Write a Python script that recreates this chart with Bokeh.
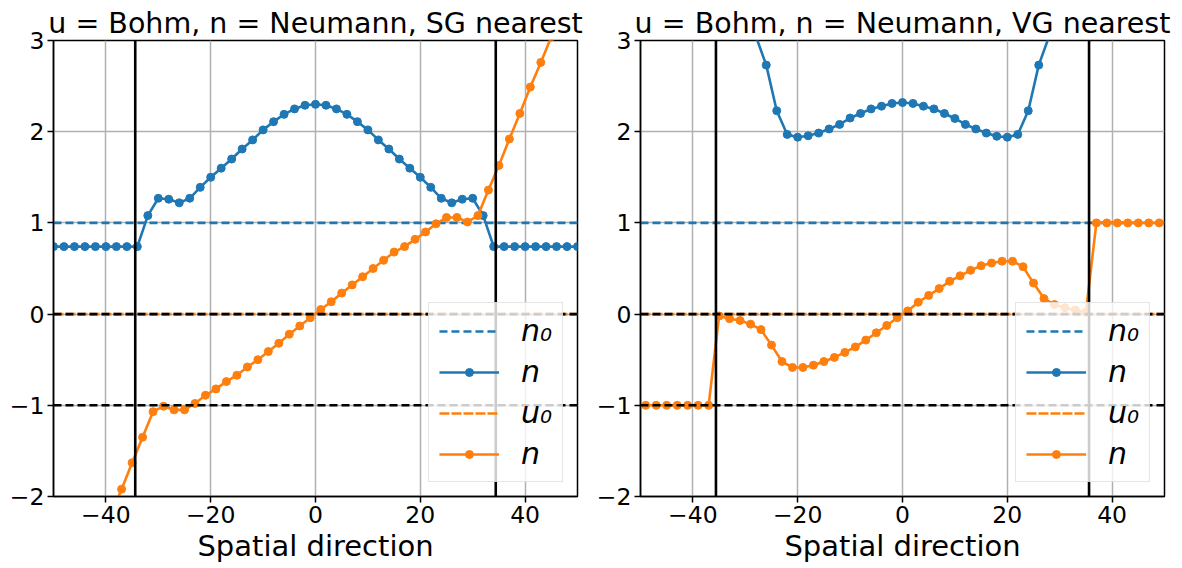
from bokeh.plotting import figure
from bokeh.layouts import row
from bokeh.models import Range1d, FixedTicker, Span, Legend, LegendItem
from bokeh.embed import file_html
from bokeh.resources import INLINE

# ---------------- data ----------------
titles = ["u = Bohm, n = Neumann, SG nearest", "u = Bohm, n = Neumann, VG nearest"]

x_n = [-50, -48, -46, -44, -42, -40, -38, -36, -34, -32, -30, -28, -26, -24, -22, -20, -18,
       -16, -14, -12, -10, -8, -6, -4, -2, 0, 2, 4, 6, 8, 10, 12, 14, 16, 18, 20, 22, 24, 26,
       28, 30, 32, 34, 36, 38, 40, 42, 44, 46, 48, 50]
x_u = [-49, -47, -45, -43, -41, -39, -37, -35, -33, -31, -29, -27, -25, -23, -21, -19, -17,
       -15, -13, -11, -9, -7, -5, -3, -1, 1, 3, 5, 7, 9, 11, 13, 15, 17, 19, 21, 23, 25, 27,
       29, 31, 33, 35, 37, 39, 41, 43, 45, 47, 49]

# left panel (SG nearest)
n_sg = [0.74, 0.74, 0.74, 0.74, 0.74, 0.74, 0.74, 0.74, 0.74,
        1.08, 1.27, 1.26, 1.22, 1.27, 1.39, 1.50, 1.60, 1.70, 1.81, 1.91, 2.02, 2.11, 2.19, 2.25, 2.29,
        2.30,
        2.29, 2.25, 2.19, 2.11, 2.02, 1.91, 1.81, 1.70, 1.60, 1.50, 1.39, 1.27, 1.22, 1.26, 1.27, 1.08,
        0.74, 0.74, 0.74, 0.74, 0.74, 0.74, 0.74, 0.74, 0.74]
u_sg = [-3.60, -3.32, -3.04, -2.76, -2.49, -2.20, -1.92, -1.63, -1.35, -1.07, -1.01, -1.05, -1.05,
        -0.98, -0.89, -0.82, -0.74, -0.67, -0.58, -0.50, -0.41, -0.32, -0.22, -0.13, -0.04,
        0.05, 0.135, 0.23, 0.32, 0.41, 0.50, 0.59, 0.68, 0.74, 0.82, 0.90, 0.99, 1.06, 1.06,
        1.01, 1.08, 1.36, 1.63, 1.92, 2.20, 2.49, 2.76, 3.04, 3.32, 3.60]
sonic_sg = [-34.4, 34.4]

# right panel (VG nearest)
n_vg = [3.6, 3.6, 3.6, 3.6, 3.6, 3.6, 3.6, 3.6, 3.6, 3.5, 3.3, 3.05,
        2.73, 2.23, 1.97, 1.94, 1.955, 1.985, 2.03, 2.08, 2.15, 2.20, 2.25, 2.28, 2.31,
        2.32,
        2.31, 2.28, 2.25, 2.20, 2.145, 2.08, 2.03, 1.985, 1.95, 1.94, 1.97, 2.23, 2.73,
        3.05, 3.3, 3.5, 3.6, 3.6, 3.6, 3.6, 3.6, 3.6, 3.6, 3.6, 3.6]
u_vg = [-1.0, -1.0, -1.0, -1.0, -1.0, -1.0, -1.0,
        -0.02, -0.05, -0.07, -0.11, -0.17, -0.34, -0.52, -0.585, -0.585, -0.56, -0.52, -0.475,
        -0.42, -0.36, -0.285, -0.205, -0.125, -0.04,
        0.035, 0.13, 0.205, 0.28, 0.36, 0.42, 0.48, 0.53, 0.56, 0.58, 0.58, 0.52, 0.34, 0.17,
        0.105, 0.07, 0.045, 0.02,
        1.0, 1.0, 1.0, 1.0, 1.0, 1.0, 1.0]
sonic_vg = [-35.6, 35.6]

n0 = 1.0
u0 = 0.0
ref_levels = [0.0, -1.0]   # black dashed reference lines

x_ticks = [-40, -20, 0, 20, 40]
y_ticks = [-2, -1, 0, 1, 2, 3]
x_tick_labels = {-40: "\u221240", -20: "\u221220", 0: "0", 20: "20", 40: "40"}
y_tick_labels = {-2: "\u22122", -1: "\u22121", 0: "0", 1: "1", 2: "2", 3: "3"}

BLUE = "#1f77b4"
ORANGE = "#ff7f0e"
FONT = "DejaVu Sans"


def panel(title, nvals, uvals, sonic):
    p = figure(width=587, height=568, output_backend="svg", toolbar_location=None,
               x_range=Range1d(-50, 50), y_range=Range1d(-2, 3),
               min_border_left=53, min_border_right=10, min_border_top=40,
               min_border_bottom=72)
    p.title.text = title
    p.title.align = "center"
    p.title.text_font = FONT
    p.title.text_font_size = "28.5px"
    p.title.text_font_style = "normal"
    p.title.text_color = "black"
    p.title.standoff = 2

    for ax, ticks, labels in ((p.xaxis[0], x_ticks, x_tick_labels), (p.yaxis[0], y_ticks, y_tick_labels)):
        ax.ticker = FixedTicker(ticks=ticks)
        ax.major_label_overrides = labels
        ax.major_label_text_font = FONT
        ax.major_label_text_font_size = "23.5px"
        ax.major_label_text_color = "black"
        ax.major_tick_in = 0
        ax.major_tick_out = 6
        ax.major_tick_line_width = 1.5
        ax.minor_tick_line_color = None
        ax.axis_line_width = 1.5
        ax.major_label_standoff = 3
    p.xaxis.axis_label = "Spatial direction"
    p.xaxis.axis_label_text_font = FONT
    p.xaxis.axis_label_text_font_size = "29px"
    p.xaxis.axis_label_text_font_style = "normal"
    p.xaxis.axis_label_text_color = "black"
    p.xaxis.axis_label_standoff = 3

    p.grid.grid_line_color = "#b0b0b0"
    p.grid.grid_line_width = 1.5
    p.outline_line_color = "black"
    p.outline_line_width = 1.5
    p.outline_line_alpha = 1.0

    for s in sonic:
        p.add_layout(Span(location=s, dimension="height", line_color="black", line_width=2.6))
    for lv in ref_levels:
        p.add_layout(Span(location=lv, dimension="width", line_color="black",
                          line_width=2.6, line_dash="8 4"))

    xr = [x_n[0], x_n[-1]]
    r_n0 = p.line(xr, [n0, n0], line_color=BLUE, line_width=2.6, line_dash="8 4")
    r_n = p.line(x_n, nvals, line_color=BLUE, line_width=2.6)
    s_n = p.scatter(x_n, nvals, size=8, fill_color=BLUE, line_color=BLUE)
    r_u0 = p.line(xr, [u0, u0], line_color=ORANGE, line_width=2.6, line_dash="10 2")
    r_u = p.line(x_u, uvals, line_color=ORANGE, line_width=2.6)
    s_u = p.scatter(x_u, uvals, size=8, fill_color=ORANGE, line_color=ORANGE)

    legend = Legend(items=[
        LegendItem(label="n\u2080", renderers=[r_n0]),
        LegendItem(label="n", renderers=[r_n, s_n]),
        LegendItem(label="u\u2080", renderers=[r_u0]),
        LegendItem(label="n", renderers=[r_u, s_u]),
    ], location="bottom_right")
    legend.margin = 14
    legend.padding = 10
    legend.spacing = 6
    legend.glyph_width = 60
    legend.glyph_height = 20
    legend.label_height = 30
    legend.label_standoff = 22
    legend.label_text_font = FONT
    legend.label_text_font_style = "italic"
    legend.label_text_font_size = "30px"
    legend.label_text_color = "black"
    legend.background_fill_color = "white"
    legend.background_fill_alpha = 0.8
    legend.border_line_color = "#cccccc"
    legend.border_line_width = 1.5
    p.add_layout(legend)
    return p


left = panel(titles[0], n_sg, u_sg, sonic_sg)
right = panel(titles[1], n_vg, u_vg, sonic_vg)

layout = row(left, right)
with open("out.html", "w") as f:
    f.write(file_html(layout, INLINE))
